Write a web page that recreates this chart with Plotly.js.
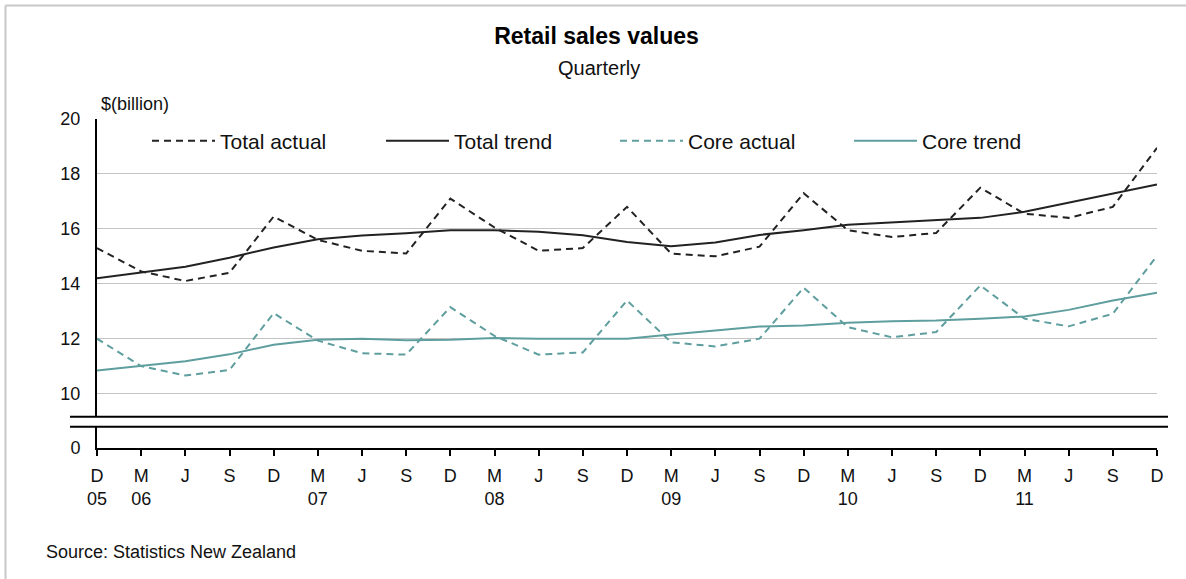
<!DOCTYPE html>
<html>
<head>
<meta charset="utf-8">
<script src="https://cdn.plot.ly/plotly-3.0.1.min.js"></script>
<style>html,body{margin:0;padding:0;background:#fff;}#chart{width:1186px;height:579px;}</style>
</head>
<body>
<div id="chart"></div>
<script>
// Quarters, Dec 2005 – Dec 2011
var quarters = ['Dec05','Mar06','Jun06','Sep06','Dec06','Mar07','Jun07','Sep07','Dec07','Mar08','Jun08','Sep08','Dec08','Mar09','Jun09','Sep09','Dec09','Mar10','Jun10','Sep10','Dec10','Mar11','Jun11','Sep11','Dec11'];
var tickLabels = ['D<br>05','M<br>06','J','S','D','M<br>07','J','S','D','M<br>08','J','S','D','M<br>09','J','S','D','M<br>10','J','S','D','M<br>11','J','S','D'];

// $(billion)
var totalActual = [15.3,14.45,14.1,14.4,16.45,15.6,15.2,15.1,17.1,16.05,15.2,15.3,16.8,15.1,15.0,15.35,17.3,15.95,15.7,15.85,17.5,16.55,16.4,16.8,18.95];
var totalTrend  = [14.2,14.4,14.62,14.95,15.32,15.62,15.76,15.84,15.95,15.95,15.89,15.77,15.52,15.37,15.5,15.78,15.95,16.15,16.23,16.3,16.4,16.62,16.95,17.3,17.62];
var coreActual  = [12.0,11.0,10.66,10.86,12.93,11.93,11.47,11.42,13.15,12.1,11.42,11.5,13.39,11.87,11.72,12.0,13.86,12.42,12.05,12.24,13.94,12.73,12.45,12.91,15.02];
var coreTrend   = [10.84,11.02,11.18,11.43,11.78,11.96,12.0,11.94,11.96,12.03,12.0,12.0,12.0,12.15,12.3,12.44,12.48,12.58,12.64,12.66,12.73,12.81,13.05,13.39,13.67];

var seriesNames = ['Total actual','Total trend','Core actual','Core trend'];
var yTicks = [10,12,14,16,18,20];

var black = '#222222', teal = '#5f9e9e';
var dashPat = '7px,5px';

var traces = [
  {x: quarters, y: totalActual, name: seriesNames[0], type:'scatter', mode:'lines', line:{color:black, width:2, dash:dashPat}},
  {x: quarters, y: totalTrend,  name: seriesNames[1], type:'scatter', mode:'lines', line:{color:black, width:2}},
  {x: quarters, y: coreActual,  name: seriesNames[2], type:'scatter', mode:'lines', line:{color:teal, width:2, dash:dashPat}},
  {x: quarters, y: coreTrend,   name: seriesNames[3], type:'scatter', mode:'lines', line:{color:teal, width:2}},
  // empty trace so the lower (broken-axis) panel exists
  {x: [quarters[0]], y: [null], xaxis:'x', yaxis:'y2', type:'scatter', mode:'lines', showlegend:false, hoverinfo:'skip'}
];

var fontFam = '"Liberation Sans", Arial, sans-serif';
var W = 1060, H = 329; // plot area px
function px(xp){ return (xp-97)/W; }
function py(yp){ return (448-yp)/H; }

var layout = {
  width:1186, height:579,
  margin:{l:97, r:29, t:119, b:131, pad:0},
  paper_bgcolor:'#ffffff', plot_bgcolor:'rgba(0,0,0,0)',
  font:{family:fontFam, color:'#111111', size:18},
  showlegend:true,
  title:{text:'<b>Retail sales values</b>', font:{size:23, family:fontFam, color:'#000'}, x:596.5/1186, xanchor:'center', y:1-36/579, yanchor:'middle', xref:'container', yref:'container'},
  xaxis:{
    type:'category', range:[0,24], anchor:'y2',
    tickmode:'array', tickvals:quarters, ticktext:tickLabels,
    showline:true, linecolor:'#000', linewidth:2,
    ticks:'outside', ticklen:6, tickwidth:2, tickcolor:'#000',
    showgrid:false, zeroline:false,
    tickfont:{size:18, family:fontFam, color:'#111'}, ticklabelstandoff:4
  },
  yaxis:{
    domain:[py(416.7), 1], range:[9.16, 20], anchor:'x',
    tickmode:'array', tickvals:yTicks,
    showline:true, linecolor:'#000', linewidth:2,
    ticks:'', showgrid:true, gridcolor:'#c4c4c4', gridwidth:1, zeroline:false,
    tickfont:{size:18, family:fontFam, color:'#111'}, ticklabelstandoff:11
  },
  yaxis2:{
    domain:[0, py(426.7)], range:[0, 0.78], anchor:'x',
    tickmode:'array', tickvals:[0], ticktext:['0'],
    showline:true, linecolor:'#000', linewidth:2,
    ticks:'', showgrid:false, zeroline:false,
    tickfont:{size:18, family:fontFam, color:'#111'}, ticklabelstandoff:11
  },
  legend:{orientation:'h', x:px(147), xanchor:'left', y:py(141), yanchor:'middle',
    itemwidth:63, entrywidth:156, entrywidthmode:'pixels', bgcolor:'rgba(0,0,0,0)',
    font:{size:21, family:fontFam, color:'#111'}, traceorder:'normal', itemclick:false},
  shapes:[
    {type:'line', xref:'paper', yref:'paper', x0:px(70), x1:px(1168), y0:py(416.7), y1:py(416.7), line:{color:'#000', width:2}},
    {type:'line', xref:'paper', yref:'paper', x0:px(70), x1:px(1168), y0:py(426.7), y1:py(426.7), line:{color:'#000', width:2}},
    {type:'line', xref:'paper', yref:'paper', x0:px(5.5), x1:px(1190), y0:py(5.5), y1:py(5.5), line:{color:'#c8c8c8', width:2}},
    {type:'line', xref:'paper', yref:'paper', x0:px(5.5), x1:px(5.5), y0:py(5.5), y1:py(585), line:{color:'#c8c8c8', width:2}}
  ],
  annotations:[
    {text:'Quarterly', xref:'paper', yref:'paper', x:px(599), y:py(68), xanchor:'center', yanchor:'middle', showarrow:false, font:{size:20, family:fontFam, color:'#111'}},
    {text:'$(billion)', xref:'paper', yref:'paper', x:px(99), y:py(104), xanchor:'left', yanchor:'middle', showarrow:false, font:{size:18, family:fontFam, color:'#111'}},
    {text:'Source: Statistics New Zealand', xref:'paper', yref:'paper', x:px(44), y:py(552), xanchor:'left', yanchor:'middle', showarrow:false, font:{size:18, family:fontFam, color:'#111'}}
  ]
};

Plotly.newPlot('chart', traces, layout, {staticPlot:true, displayModeBar:false});
</script>
</body>
</html>
